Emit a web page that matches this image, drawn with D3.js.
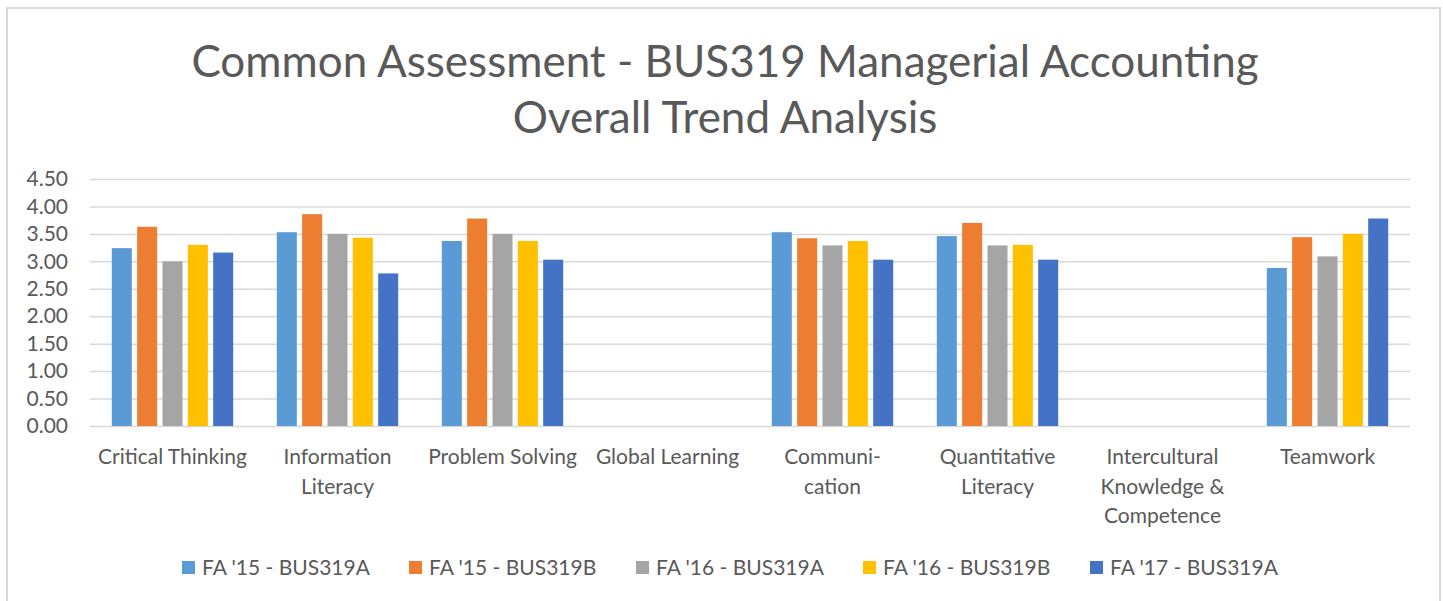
<!DOCTYPE html>
<html>
<head>
<meta charset="utf-8">
<script src="https://cdn.jsdelivr.net/npm/d3@7"></script>
<style>
  body { margin: 0; background: #fff; }
  svg text { font-family: Lato, "Noto Sans", sans-serif; fill: #595959; }
</style>
</head>
<body>
<div id="chart"></div>
<script>
// Data
const categories = [
  ["Critical Thinking"],
  ["Information", "Literacy"],
  ["Problem Solving"],
  ["Global Learning"],
  ["Communi-", "cation"],
  ["Quantitative", "Literacy"],
  ["Intercultural", "Knowledge &", "Competence"],
  ["Teamwork"]
];
const seriesNames = ["FA '15 - BUS319A", "FA '15 - BUS319B", "FA '16 - BUS319A", "FA '16 - BUS319B", "FA '17 - BUS319A"];
const seriesColors = ["#5b9bd5", "#ed7d31", "#a5a5a5", "#ffc000", "#4472c4"];
// null = no data for that category
const fa15A = [3.24, 3.53, 3.37, null, 3.53, 3.46, null, 2.88];
const fa15B = [3.63, 3.86, 3.78, null, 3.42, 3.70, null, 3.44];
const fa16A = [3.00, 3.50, 3.50, null, 3.29, 3.29, null, 3.09];
const fa16B = [3.30, 3.43, 3.37, null, 3.37, 3.30, null, 3.50];
const fa17A = [3.16, 2.78, 3.03, null, 3.03, 3.03, null, 3.78];
const seriesValues = [fa15A, fa15B, fa16A, fa16B, fa17A];
const yTicks = [0, 0.5, 1, 1.5, 2, 2.5, 3, 3.5, 4, 4.5];

const W = 1443, H = 601;
const plot = { left: 90, right: 1410, top: 179, bottom: 426 };

const svg = d3.select("#chart").append("svg").attr("width", W).attr("height", H);

// outer frame
svg.append("rect").attr("x", 7).attr("y", 8).attr("width", 1433).attr("height", 620)
  .attr("fill", "none").attr("stroke", "#d9d9d9").attr("stroke-width", 2);

// title
const title = svg.append("text").attr("text-anchor", "middle").style("font-size", "44px");
title.append("tspan").attr("x", 725).attr("y", 77).text("Common Assessment - BUS319 Managerial Accounting");
title.append("tspan").attr("x", 725).attr("y", 133).text("Overall Trend Analysis");

// scales
const y = d3.scaleLinear().domain([0, 4.5]).range([plot.bottom, plot.top]);
const x0 = d3.scaleBand().domain(d3.range(categories.length)).range([plot.left, plot.right]);
const x1 = d3.scaleBand().domain(d3.range(seriesNames.length)).range([0, x0.bandwidth()])
  .paddingInner(0.21).paddingOuter(0.86);

// gridlines + y labels
const yAxis = svg.append("g").attr("transform", `translate(${plot.left},0)`)
  .call(d3.axisLeft(y).tickValues(yTicks).tickFormat(d3.format(".2f"))
    .tickSize(-(plot.right - plot.left)).tickPadding(22));
yAxis.select(".domain").remove();
yAxis.selectAll(".tick line").attr("stroke", "#d9d9d9").attr("stroke-width", 1.5);
yAxis.selectAll(".tick text").style("font-size", "21px").style("font-family", "Lato, sans-serif").attr("fill", "#595959");

// bars
categories.forEach((c, i) => {
  const g = svg.append("g").attr("transform", `translate(${x0(i)},0)`);
  seriesValues.forEach((vals, s) => {
    const v = vals[i];
    if (v == null) return;
    g.append("rect")
      .attr("x", x1(s)).attr("width", x1.bandwidth())
      .attr("y", y(v)).attr("height", y(0) - y(v))
      .attr("fill", seriesColors[s]);
  });
});

// category labels
categories.forEach((lines, i) => {
  const t = svg.append("text").attr("text-anchor", "middle").style("font-size", "21px");
  lines.forEach((line, k) => {
    t.append("tspan").attr("x", x0(i) + x0.bandwidth() / 2).attr("y", 464 + k * 29.5).text(line);
  });
});

// legend
const legend = svg.append("g").attr("transform", "translate(182,0)");
seriesNames.forEach((name, s) => {
  const lg = legend.append("g").attr("transform", `translate(${s * 227},0)`);
  lg.append("rect").attr("x", 0).attr("y", 561).attr("width", 13).attr("height", 13).attr("fill", seriesColors[s]);
  lg.append("text").attr("x", 20).attr("y", 575).style("font-size", "21px").text(name);
});
</script>
</body>
</html>
